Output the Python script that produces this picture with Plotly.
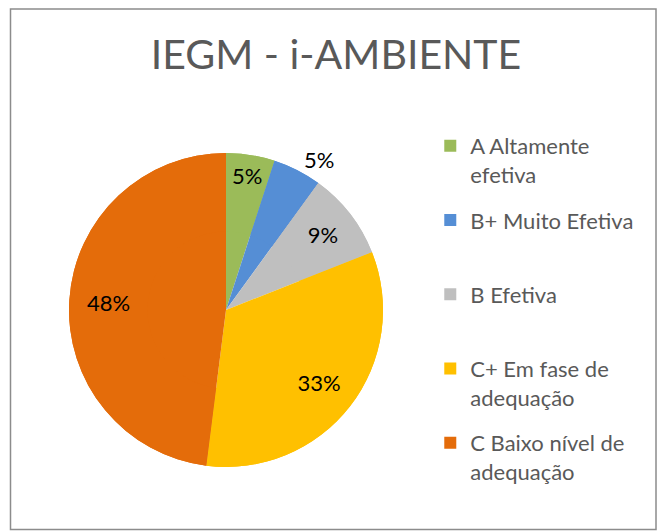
import plotly.graph_objects as go

# dados do gráfico
categorias = [
    "A Altamente<br>efetiva",
    "B+ Muito Efetiva<br> ",
    "B Efetiva<br> ",
    "C+ Em fase de<br>adequação",
    "C Baixo nível de<br>adequação",
]
percentuais = [5, 5, 9, 33, 48]
cores = ["#9BBB59", "#558ED5", "#BFBFBF", "#FFC000", "#E46C0A"]
posicao_texto = ["inside", "outside", "inside", "inside", "inside"]

W, H = 665, 532
# a página tem 8px de margem no body; posições em px da figura
dominio = dict(x=[61 / W, 375 / W], y=[73 / H, 387 / H])

fig = go.Figure()
# pizza cheia (só as fatias)
fig.add_trace(
    go.Pie(
        labels=categorias,
        values=percentuais,
        sort=False,
        direction="clockwise",
        rotation=0,
        marker=dict(colors=cores, line=dict(width=0)),
        textinfo="none",
        domain=dominio,
        showlegend=False,
        hoverinfo="skip",
    )
)
# anel por cima, só para posicionar os rótulos mais perto da borda
fig.add_trace(
    go.Pie(
        labels=categorias,
        values=percentuais,
        sort=False,
        direction="clockwise",
        rotation=0,
        hole=0.5,
        marker=dict(colors=cores, line=dict(width=0)),
        texttemplate="%{value}%",
        textposition=posicao_texto,
        insidetextorientation="horizontal",
        textfont=dict(family="Lato", size=22, color="#000000"),
        domain=dominio,
        showlegend=False,
        hoverinfo="label+percent",
    )
)

# itens da legenda (traços vazios, um grupo por categoria)
for i, (nome, cor) in enumerate(zip(categorias, cores)):
    fig.add_trace(
        go.Scatter(
            x=[None],
            y=[None],
            mode="markers",
            marker=dict(symbol="square", color=cor, size=12),
            name=nome,
            legendgroup=f"g{i}",
        )
    )

fig.update_layout(
    width=W,
    height=H,
    paper_bgcolor="white",
    plot_bgcolor="white",
    margin=dict(l=0, r=0, t=0, b=0, autoexpand=False),
    title=dict(
        text="IEGM - i-AMBIENTE",
        x=328 / W,
        xanchor="center",
        y=1 - 47 / H,
        yanchor="middle",
        font=dict(family="Lato", size=41, color="#595959"),
    ),
    xaxis=dict(visible=False),
    yaxis=dict(visible=False),
    uniformtext=dict(minsize=22, mode="show"),
    legend=dict(
        x=0.635,
        y=0.78,
        xanchor="left",
        yanchor="top",
        valign="top",
        tracegroupgap=14,
        itemsizing="constant",
        font=dict(family="Lato", size=22, color="#595959"),
        bgcolor="rgba(0,0,0,0)",
    ),
    shapes=[
        dict(
            type="rect",
            xref="paper",
            yref="paper",
            x0=2.5 / W,
            x1=648 / W,
            y0=1 - 521.5 / H,
            y1=1 - 1 / H,
            line=dict(color="#8C8C8C", width=1.5),
            fillcolor="rgba(0,0,0,0)",
            layer="below",
        )
    ],
)

fig.write_html("out.html")
